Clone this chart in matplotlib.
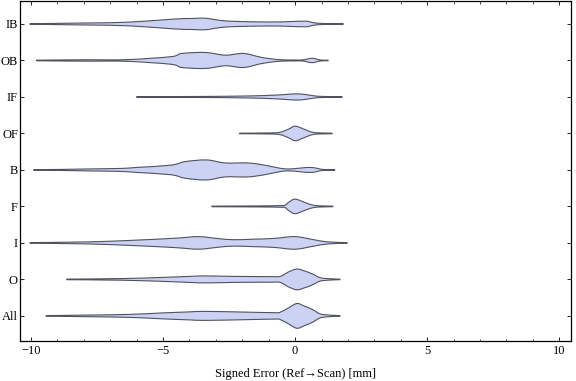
import matplotlib

matplotlib.use("Agg")
import matplotlib.pyplot as plt
from matplotlib.patches import PathPatch
from matplotlib.path import Path
from matplotlib.ticker import MultipleLocator

# category labels, bottom to top
LABELS = ["All", "O", "I", "F", "B", "OF", "IF", "OB", "IB"]

# violin profiles: error position [mm] and density (half-width)
ALL_X = [-9.43, -7.9, -6.25, -5.0, -4.0, -3.4, -1.9, -0.76, -0.57, -0.25, 0.07, 0.35, 0.65, 0.95, 1.3, 1.7]
ALL_D = [0.3, 0.8, 1.5, 3.0, 4.0, 4.5, 3.8, 3.2, 3.6, 8.0, 12.4, 9.8, 6.5, 2.0, 0.8, 0.3]
O_X = [-8.65, -6.6, -5.0, -4.0, -3.4, -2.3, -1.0, -0.57, -0.25, 0.07, 0.35, 0.65, 0.95, 1.3, 1.7]
O_D = [0.3, 0.8, 2.0, 3.0, 3.5, 3.0, 2.8, 3.0, 7.5, 10.4, 8.5, 5.5, 1.7, 0.7, 0.3]
I_X = [-10.04, -7.9, -6.25, -4.55, -3.67, -2.9, -2.35, -1.6, -0.8, 0.0, 0.75, 1.25, 1.97]
I_D = [0.3, 1.0, 2.5, 4.7, 6.3, 4.3, 3.2, 3.7, 4.5, 6.3, 3.0, 1.0, 0.3]
F_X = [-3.15, -1.4, -0.6, -0.38, -0.25, 0.0, 0.38, 0.55, 0.7, 0.9, 1.43]
F_D = [0.3, 0.5, 0.8, 1.2, 4.0, 7.3, 3.8, 2.2, 1.2, 0.6, 0.3]
B_X = [-9.9, -8.9, -7.8, -6.6, -6.0, -4.7, -4.17, -3.35, -2.65, -1.8, -1.2, -0.57, -0.19, 0.57, 1.06, 1.5]
B_D = [0.3, 0.5, 1.0, 1.5, 2.5, 4.8, 8.3, 10.0, 7.0, 7.0, 5.0, 1.7, 1.0, 2.5, 0.5, 0.3]
OF_X = [-2.1, -1.0, -0.57, -0.25, 0.0, 0.3, 0.5, 0.7, 0.95, 1.4]
OF_D = [0.3, 0.5, 1.2, 4.3, 7.3, 4.7, 2.5, 1.0, 0.5, 0.3]
IF_X = [-6.0, -4.5, -3.0, -1.6, -0.9, -0.45, 0.0, 0.35, 0.7, 1.06, 1.78]
IF_D = [0.3, 0.4, 0.6, 1.1, 1.7, 2.3, 3.1, 2.6, 1.2, 0.5, 0.3]
OB_X = [-9.8, -7.9, -6.4, -4.7, -4.3, -3.4, -2.65, -1.95, -1.25, -0.6, 0.0, 0.3, 0.65, 0.95, 1.25]
OB_D = [0.3, 0.7, 0.8, 3.8, 7.0, 8.0, 5.3, 7.0, 3.0, 0.8, 0.5, 0.6, 2.2, 0.5, 0.3]
IB_X = [-10.04, -7.9, -6.25, -4.55, -3.9, -3.4, -2.95, -2.4, -1.0, -0.3, 0.4, 0.7, 1.06, 1.82]
IB_D = [0.3, 1.0, 1.9, 5.0, 5.5, 5.8, 4.0, 2.7, 2.0, 2.3, 2.8, 1.3, 0.5, 0.3]

PROFILES = [(ALL_X, ALL_D), (O_X, O_D), (I_X, I_D), (F_X, F_D), (B_X, B_D),
            (OF_X, OF_D), (IF_X, IF_D), (OB_X, OB_D), (IB_X, IB_D)]

SCALE = 1 / 36.5  # density units -> category spacing
FILL = "#ccd2f3"
EDGE = "#50525e"


def smooth_path(pts):
    """Catmull-Rom through the outline points, drawn as cubic Bezier segments."""
    verts, codes = [pts[0]], [Path.MOVETO]
    n = len(pts)
    for i in range(n - 1):
        p0 = pts[max(i - 1, 0)]
        p1, p2 = pts[i], pts[i + 1]
        p3 = pts[min(i + 2, n - 1)]
        c1 = (p1[0] + (p2[0] - p0[0]) / 6, p1[1] + (p2[1] - p0[1]) / 6)
        c2 = (p2[0] - (p3[0] - p1[0]) / 6, p2[1] - (p3[1] - p1[1]) / 6)
        verts += [c1, c2, p2]
        codes += [Path.CURVE4] * 3
    verts.append(pts[0])
    codes.append(Path.CLOSEPOLY)
    return Path(verts, codes)


plt.rcParams["font.family"] = ["Liberation Serif", "DejaVu Serif"]

fig = plt.figure(figsize=(5.76, 3.81), dpi=100)
ax = fig.add_axes([20 / 576, 40.3 / 381, 551 / 576, 339.7 / 381])

for i, (xs, ds) in enumerate(PROFILES):
    y = i + 1
    top = [(x, y + d * SCALE) for x, d in zip(xs, ds)]
    bot = [(x, y - d * SCALE) for x, d in zip(xs, ds)]
    outline = top + bot[::-1][1:-1]
    # smooth top edge, then bottom edge back
    path_top = smooth_path(top)
    path_bot = smooth_path(bot[::-1])
    verts = list(path_top.vertices[:-1]) + list(path_bot.vertices[:-1]) + [top[0]]
    codes = list(path_top.codes[:-1]) + [Path.LINETO] + list(path_bot.codes[1:-1]) + [Path.CLOSEPOLY]
    ax.add_patch(PathPatch(Path(verts, codes), facecolor=FILL, edgecolor=EDGE,
                           lw=0.8, joinstyle="round"))

ax.set_xlim(-10.42, 10.45)
ax.set_ylim(0.32, 9.63)
ax.set_yticks(range(1, len(LABELS) + 1))
ax.set_yticklabels(LABELS)
ax.xaxis.set_major_locator(MultipleLocator(5))
ax.xaxis.set_minor_locator(MultipleLocator(1))
ax.tick_params(axis="x", which="major", direction="in", length=3, width=0.6,
               top=True, labelsize=9, pad=3)
ax.tick_params(axis="x", which="minor", direction="in", length=1.8, width=0.5, top=True)
ax.tick_params(axis="y", direction="in", length=3.2, width=0.6, right=True,
               labelsize=9, pad=1.5)
for s in ax.spines.values():
    s.set_linewidth(0.9)
ax.set_xlabel("Signed Error (Ref\u2192Scan) [mm]", fontsize=9, labelpad=8)

fig.savefig("out.png", dpi=100)
